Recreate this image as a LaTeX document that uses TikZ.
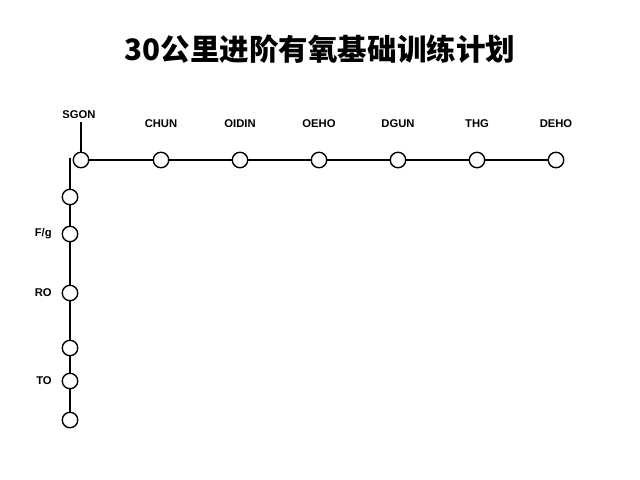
\documentclass[tikz,border=0pt]{standalone}
\usepackage{fontspec}
\setmainfont{Liberation Sans}
\newfontfamily\cjk{Noto Sans CJK SC}
\usetikzlibrary{positioning}
\tikzset{stop/.style={circle, draw=black, fill=white, line width=1pt, inner sep=0pt, minimum size=11pt},
  lbl/.style={font=\fontsize{8}{9}\selectfont\bfseries}}
\begin{document}
\begin{tikzpicture}[x=0.025cm, y=-0.025cm, line width=1.3pt]
	\useasboundingbox (0,0) rectangle (640,480);
	%title
	\node (title) at (320,49) {\cjk\bfseries\fontsize{21}{24}\selectfont 30公里进阶有氧基础训练计划};
	%top line
	\coordinate (corner) at (70,158);
	\coordinate (tick) at (81,122);
	\foreach \x [count=\i] in {81,161,240,319,398,477,556}
		\node[stop] (h\i) at (\x,160) {};
	\draw (h1) -- (h2) -- (h3) -- (h4) -- (h5) -- (h6) -- (h7);
	\draw (tick) -- (h1);
	\node[lbl] (l1) at (79,115) {SGON};
	\foreach \x/\t [count=\i from 2] in {161/CHUN,240/OIDIN,319/OEHO,398/DGUN,477/THG,556/DEHO}
		\node[lbl] (l\i) at (\x,124) {\t};
	%side line
	\foreach \y [count=\i] in {197,234,293,348,381,420}
		\node[stop] (v\i) at (70,\y) {};
	\draw (corner) -- (v1) -- (v2) -- (v3) -- (v4) -- (v5) -- (v6);
	\node[lbl, left=3pt of v2] (s1) {F/g};
	\node[lbl, left=3pt of v3] (s2) {RO};
	\node[lbl, left=3pt of v5] (s3) {TO};
\end{tikzpicture}
\end{document}
